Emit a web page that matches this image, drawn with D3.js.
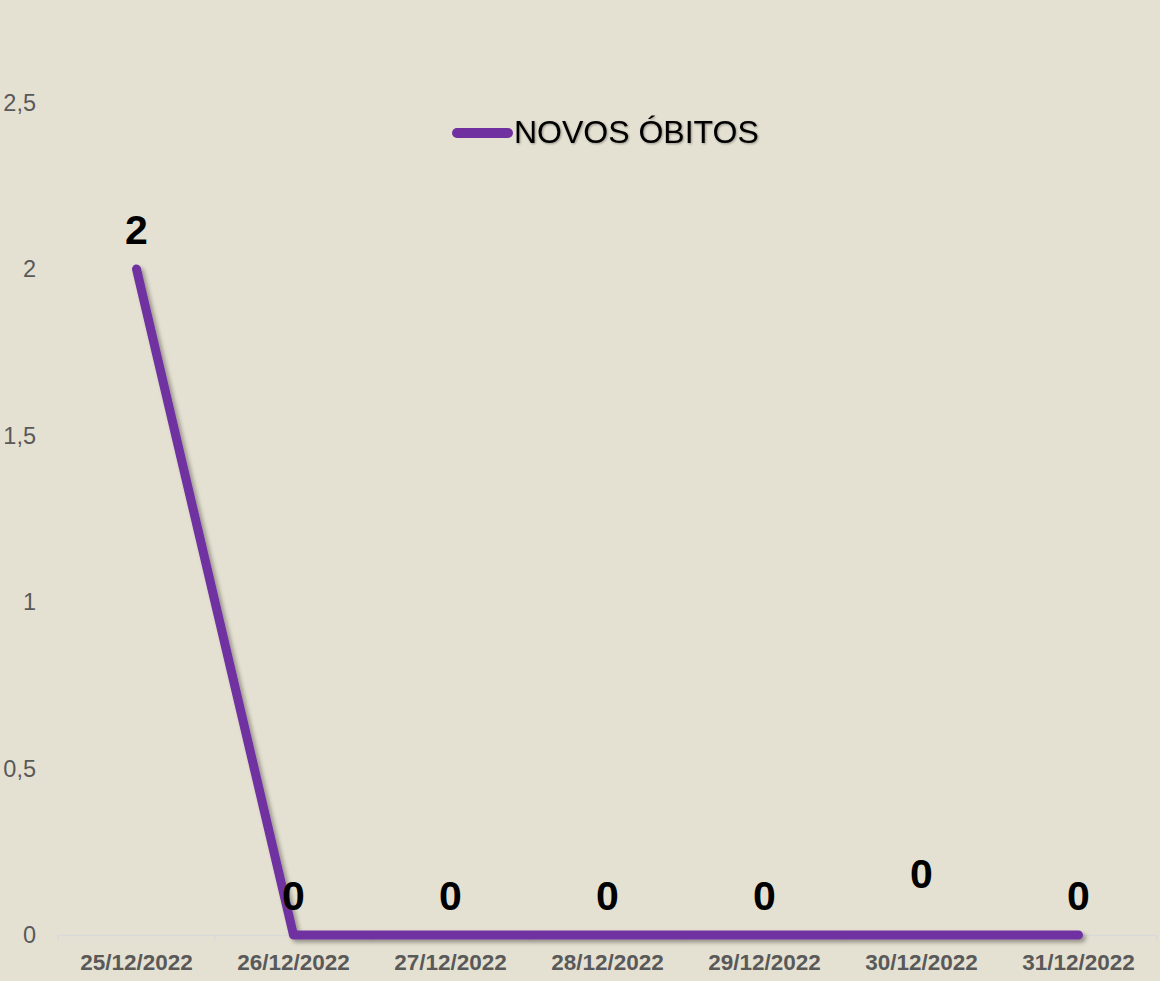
<!DOCTYPE html>
<html><head><meta charset="utf-8">
<script src="https://cdn.jsdelivr.net/npm/d3@7"></script>
<style>
html,body{margin:0;padding:0;background:#E5E1D2;}
svg{display:block;}
text{font-family:"Liberation Sans",Arial,sans-serif;}
</style></head>
<body>
<script>
const categories = ["25/12/2022","26/12/2022","27/12/2022","28/12/2022","29/12/2022","30/12/2022","31/12/2022"];
const values = [2,0,0,0,0,0,0];
const seriesName = "NOVOS ÓBITOS";
const yTicks = [0,0.5,1,1.5,2,2.5];

const W = 1160, H = 981;
const svg = d3.select("body").append("svg").attr("width",W).attr("height",H);
svg.append("rect").attr("width",W).attr("height",H).attr("fill","#E5E1D2");

const defs = svg.append("defs");
const f = defs.append("filter").attr("id","sh").attr("x","-20%").attr("y","-20%").attr("width","140%").attr("height","140%");
f.append("feDropShadow").attr("dx",3).attr("dy",3).attr("stdDeviation",2).attr("flood-color","#000").attr("flood-opacity",0.35);
const f2 = defs.append("filter").attr("id","tsh").attr("x","-10%").attr("y","-20%").attr("width","120%").attr("height","140%");
f2.append("feDropShadow").attr("dx",1).attr("dy",1).attr("stdDeviation",0.8).attr("flood-color","#000").attr("flood-opacity",0.35);

const x = d3.scaleBand().domain(categories).range([58,1157]);
const y = d3.scaleLinear().domain([0,2.5]).range([935,102.5]);

// y labels
svg.append("g").selectAll("text").data(yTicks).join("text")
  .attr("x",36).attr("y",d=>y(d)+8).attr("text-anchor","end")
  .attr("font-size",23.5).attr("fill","#595959")
  .text(d=>d3.format("")(d).replace(".",","));

// x axis
const xAxis = svg.append("g").attr("transform","translate(0,935)")
  .call(d3.axisBottom(x).tickSize(0).tickFormat(d=>d));
xAxis.select(".domain").attr("stroke","#D9D9D9").attr("stroke-width",1.5);
xAxis.selectAll(".tick text").attr("font-size",22.5).attr("font-weight","bold")
  .attr("fill","#595959").attr("dy",0).attr("y",35)
  .style("font-family","'Liberation Sans',Arial,sans-serif");
// band boundary ticks
const bounds = categories.map(c=>x(c)).concat([x.range()[1]]);
svg.append("g").selectAll("line").data(bounds).join("line")
  .attr("x1",d=>d).attr("x2",d=>d).attr("y1",935).attr("y2",941)
  .attr("stroke","#D9D9D9").attr("stroke-width",1.5);

// line
const cx = d=>x(d)+x.bandwidth()/2;
const line = d3.line().x((d,i)=>cx(categories[i])).y(d=>y(d));
svg.append("path").datum(values).attr("d",line)
  .attr("fill","none").attr("stroke","#7030A0").attr("stroke-width",9)
  .attr("stroke-linecap","round").attr("stroke-linejoin","round")
  .attr("filter","url(#sh)");

// data labels
const labelShift = i => categories[i]==="30/12/2022" ? -22 : 0;
svg.append("g").selectAll("text").data(values).join("text")
  .attr("x",(d,i)=>cx(categories[i]))
  .attr("y",(d,i)=>y(d)-25+labelShift(i))
  .attr("text-anchor","middle").attr("font-size",41).attr("font-weight","bold")
  .attr("fill","#000").text(d=>d);

// legend
svg.append("line").attr("x1",457).attr("x2",508).attr("y1",133).attr("y2",133)
  .attr("stroke","#7030A0").attr("stroke-width",10).attr("stroke-linecap","round");
svg.append("text").attr("x",514).attr("y",143).attr("font-size",32)
  .attr("fill","#000").attr("filter","url(#tsh)").text(seriesName);
</script>
</body></html>
